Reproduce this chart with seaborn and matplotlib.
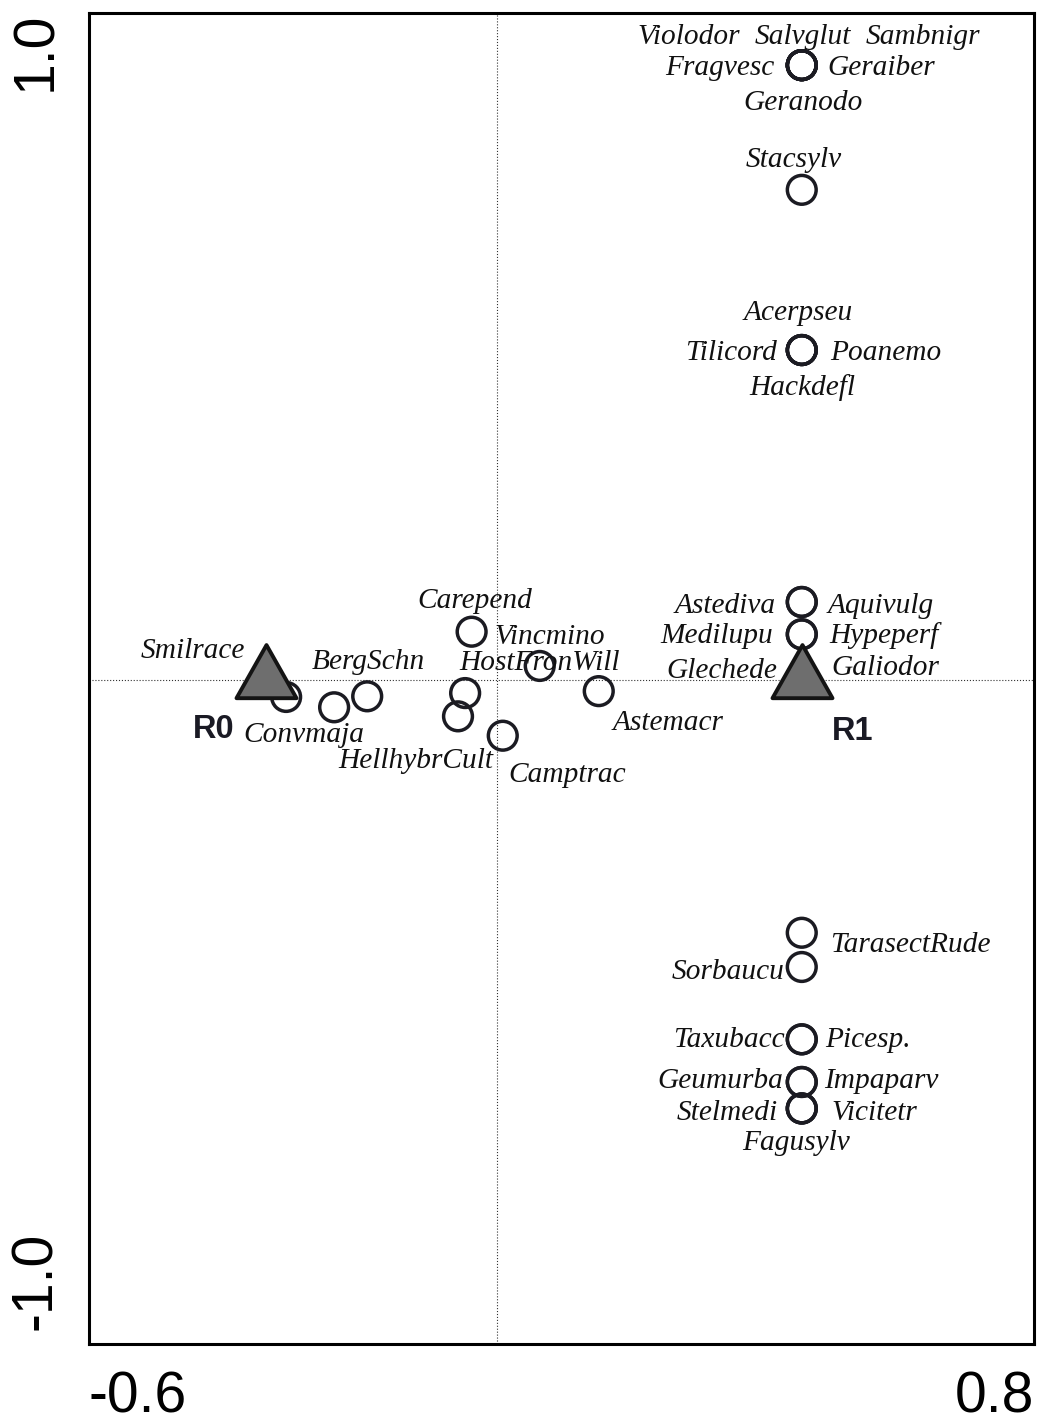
import numpy as np
import pandas as pd
import matplotlib.pyplot as plt
import matplotlib.transforms as mtransforms
from matplotlib.path import Path
import seaborn as sns

# ---- species scores (ordination axis 1 / axis 2) ----
species = ['Violodor', 'Salvglut', 'Sambnigr', 'Fragvesc', 'Geraiber', 'Geranodo',
           'Stacsylv',
           'Acerpseu', 'Tilicord', 'Poanemo', 'Hackdefl',
           'Astediva', 'Aquivulg', 'Medilupu', 'Hypeperf', 'Glechede', 'Galiodor',
           'TarasectRude', 'Sorbaucu', 'Taxubacc', 'Picesp.', 'Geumurba', 'Impaparv',
           'Stelmedi', 'Vicitetr', 'Fagusylv',
           'Smilrace', 'Convmaja', 'BergSchn', 'HostFronWill', 'HellhybrCult',
           'Carepend', 'Vincmino', 'Camptrac', 'Astemacr']
sp_x = [0.470, 0.470, 0.470, 0.470, 0.470, 0.470,
        0.470,
        0.470, 0.470, 0.470, 0.470,
        0.470, 0.470, 0.470, 0.470, 0.470, 0.470,
        0.470, 0.470, 0.470, 0.470, 0.470, 0.470,
        0.470, 0.470, 0.470,
        -0.325, -0.251, -0.200, -0.049, -0.060,
        -0.039, 0.066, 0.009, 0.157]
sp_y = [0.951, 0.951, 0.951, 0.951, 0.951, 0.951,
        0.758,
        0.510, 0.510, 0.510, 0.510,
        0.120, 0.120, 0.070, 0.070, 0.004, 0.004,
        -0.392, -0.445, -0.557, -0.557, -0.623, -0.623,
        -0.664, -0.664, -0.664,
        -0.027, -0.043, -0.026, -0.021, -0.057,
        0.074, 0.021, -0.087, -0.018]

# ---- sample scores ----
samples = ['R0', 'R1']
smp_x = [-0.356, 0.470]
smp_y = [0.0, 0.0]

x_ticks = [-0.6, -0.4, -0.2, 0.0, 0.2, 0.4, 0.6, 0.8]
y_ticks = [-1.0, -0.5, 0.0, 0.5, 1.0]

# label placement (pixel offset from the point, horizontal alignment)
label_pos = {
    'Violodor': (-113, 21, 'center'), 'Salvglut': (1, 21, 'center'),
    'Sambnigr': (121, 21, 'center'), 'Fragvesc': (-27, -10, 'right'),
    'Geraiber': (26, -10, 'left'), 'Geranodo': (1, -45, 'center'),
    'Stacsylv': (-8, 23, 'center'),
    'Acerpseu': (-4, 30, 'center'), 'Tilicord': (-25, -10, 'right'),
    'Poanemo': (28, -10, 'left'), 'Hackdefl': (1, -45, 'center'),
    'Astediva': (-26, -11, 'right'), 'Aquivulg': (26, -11, 'left'),
    'Medilupu': (-29, -9, 'right'), 'Hypeperf': (28, -9, 'left'),
    'Glechede': (-25, -1, 'right'), 'Galiodor': (30, 2, 'left'),
    'TarasectRude': (28, -19, 'left'), 'Sorbaucu': (-17, -12, 'right'),
    'Taxubacc': (-17, -8, 'right'), 'Picesp.': (23, -8, 'left'),
    'Geumurba': (-19, -6, 'right'), 'Impaparv': (22, -6, 'left'),
    'Stelmedi': (-24, -12, 'right'), 'Vicitetr': (30, -12, 'left'),
    'Fagusylv': (-6, -42, 'center'),
    'Smilrace': (-41, 39, 'right'), 'Convmaja': (-30, -35, 'center'),
    'BergSchn': (1, 27, 'center'), 'HostFronWill': (74, 23, 'center'),
    'HellhybrCult': (-42, -52, 'center'), 'Carepend': (3, 24, 'center'),
    'Vincmino': (10, 22, 'center'), 'Camptrac': (64, -46, 'center'),
    'Astemacr': (69, -39, 'center'),
    'R0': (-52, -58, 'center'), 'R1': (51, -60, 'center'),
}

df_sp = pd.DataFrame({'name': species, 'ax1': sp_x, 'ax2': sp_y})
df_smp = pd.DataFrame({'name': samples, 'ax1': smp_x, 'ax2': smp_y})

sns.set_style('white')
plt.rcParams['font.family'] = ['Liberation Sans', 'DejaVu Sans']

fig = plt.figure(figsize=(10.38, 14.22), dpi=100)
ax = fig.add_axes([0.0857, 0.05485, 0.9104, 0.9360])

ink = '#1b1b22'

# reference lines through the origin
ax.axhline(0, ls=':', lw=0.8, color='#333333', zorder=1)
ax.axvline(0, ls=':', lw=0.8, color='#333333', zorder=1)

# species as open circles
sns.scatterplot(data=df_sp, x='ax1', y='ax2', marker='o', s=430,
                edgecolor=ink, linewidth=2.5, ax=ax, zorder=2, legend=False)
ax.collections[-1].set_facecolor('none')

# samples as triangles centred on their centroid
tri = Path([(0, 30.67), (-26, -15.33), (26, -15.33), (0, 30.67)],
           [Path.MOVETO, Path.LINETO, Path.LINETO, Path.CLOSEPOLY])
sns.scatterplot(data=df_smp, x='ax1', y='ax2', marker=tri, s=2600,
                color='#6e6e6e', edgecolor='#141414', linewidth=2.8,
                ax=ax, zorder=3, legend=False)

for _, r in df_sp.iterrows():
    dx, dy, ha = label_pos[r['name']]
    ax.annotate(r['name'], (r['ax1'], r['ax2']), xytext=(dx, dy),
                textcoords='offset pixels', ha=ha, va='baseline',
                family=['Liberation Serif', 'DejaVu Serif'], style='italic',
                fontsize=21.2, color='#111111', zorder=4)

for _, r in df_smp.iterrows():
    dx, dy, ha = label_pos[r['name']]
    ax.annotate(r['name'], (r['ax1'], r['ax2']), xytext=(dx, dy),
                textcoords='offset pixels', ha=ha, va='baseline',
                fontweight='bold', fontsize=23.5, color='#1a1a24', zorder=4)

ax.set_xlim(-0.629, 0.828)
ax.set_ylim(-1.0286, 1.0317)
ax.set_xlabel('')
ax.set_ylabel('')

ax.set_xticks(x_ticks)
ax.set_xticklabels(['-0.6'] + [''] * 6 + ['0.8'])
ax.set_yticks(y_ticks)
ax.set_yticklabels(['-1.0', '', '', '', '1.0'], rotation=90)

ax.tick_params(axis='both', direction='inout', length=9.5, width=1.5,
               color='black', labelsize=41, labelcolor='black')
ax.tick_params(axis='x', pad=14)
ax.tick_params(axis='y', pad=14)

for s in ax.spines.values():
    s.set_visible(True)
    s.set_linewidth(2.2)
    s.set_color('black')

# end labels are pulled inside the frame edges
px = 1 / 100
xl = ax.get_xticklabels()
xl[0].set_ha('left')
xl[0].set_transform(xl[0].get_transform() + mtransforms.ScaledTranslation(-19 * px, 0, fig.dpi_scale_trans))
xl[-1].set_ha('right')
xl[-1].set_transform(xl[-1].get_transform() + mtransforms.ScaledTranslation(18 * px, 0, fig.dpi_scale_trans))
yl = ax.get_yticklabels()
yl[0].set_va('bottom')
yl[0].set_transform(yl[0].get_transform() + mtransforms.ScaledTranslation(0, -4 * px, fig.dpi_scale_trans))
yl[-1].set_va('top')
yl[-1].set_transform(yl[-1].get_transform() + mtransforms.ScaledTranslation(0, 22 * px, fig.dpi_scale_trans))

fig.savefig('out.png', dpi=100)
plt.close()
